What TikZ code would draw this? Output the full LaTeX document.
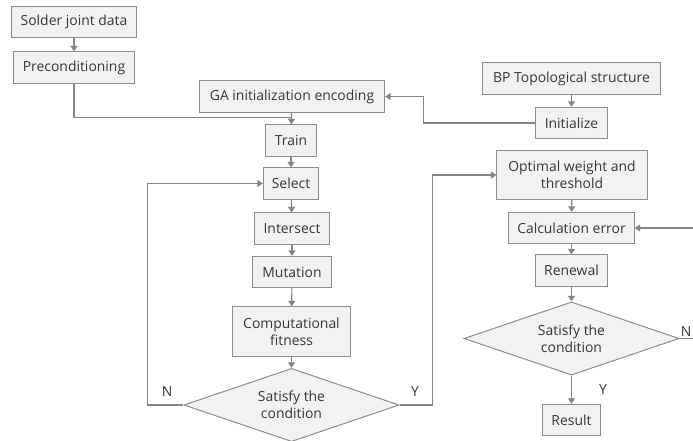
\documentclass[tikz,border=0pt]{standalone}
\usepackage{fontspec}
\setmainfont{Open Sans}
\usetikzlibrary{arrows.meta,
shapes.geometric,
positioning}
\definecolor{boxfill}{HTML}{F2F2F2}
\definecolor{boxline}{HTML}{8C8C8C}
\definecolor{flowline}{HTML}{858585}
\definecolor{labeltext}{HTML}{363636}

\begin{document}
\begin{tikzpicture} [x=0.025cm,
        y=-0.025cm,
        >={Triangle[width=5pt,length=4pt]},
        font=\fontsize{9.9}{12.2}\selectfont,
        text=labeltext,
        step box/.style={rectangle, fill = boxfill, draw = boxline,
                line width = 0.7pt, minimum height = 0.78cm,
                inner sep = 2pt, align=center},
        cond box/.style={diamond, fill = boxfill, draw = boxline,
                line width = 0.7pt, aspect = 2.95, inner sep = 0pt,
                minimum width = 5.38cm, minimum height = 1.83cm,
                align=center},
        flow/.style={draw = flowline, line width = 0.8pt},
        flow arrow/.style={flow, ->}]

    \clip (0, 0) rectangle (693, 441);

    % GA side
    \node [step box, minimum width = 3.1 cm] (solder) at (74, 22) {Solder joint data};
    \node [step box, minimum width = 3.03 cm] (precond) at (74, 67.5) {Preconditioning};
    \node [step box, minimum width = 4.63 cm] (ga) at (292, 96.5) {GA initialization encoding};
    \node [step box, minimum width = 1.28 cm] (train) at (291, 140.5) {Train};
    \node [step box, minimum width = 1.38 cm] (select) at (291, 183.5) {Select};
    \node [step box, minimum width = 1.85 cm] (intersect) at (292, 228.5) {Intersect};
    \node [step box, minimum width = 1.95 cm] (mutation) at (292, 272) {Mutation};
    \node [step box, minimum width = 2.93 cm,
        minimum height = 1.23 cm] (fitness) at (291.5, 331.5) {Computational\\fitness};
    \node [cond box] (cond_ga) at (291.5, 405) {Satisfy the\\condition};

    % BP side
    \node [step box, minimum width = 4.43 cm] (bp) at (571.5, 78.5) {BP Topological structure};
    \node [step box, minimum width = 1.78 cm] (init) at (571.5, 123) {Initialize};
    \node [step box, minimum width = 3.75 cm,
        minimum height = 1.23 cm] (optimal) at (572, 175) {Optimal weight and\\threshold};
    \node [step box, minimum width = 3.13 cm] (calc) at (571.5, 228) {Calculation error};
    \node [step box, minimum width = 1.78 cm] (renewal) at (571.5, 270.5) {Renewal};
    \node [cond box] (cond_bp) at (571.5, 338.5) {Satisfy the\\condition};
    \node [step box, minimum width = 1.43 cm] (result) at (571.5, 420) {Result};

    % branch labels
    \node (no_ga) at (167, 392) {N};
    \node (yes_ga) at (415, 392) {Y};
    \node (yes_bp) at (603, 390) {Y};
    \node [anchor = south east, inner sep = 1pt] (no_bp) at (693, 338) {N};

    \coordinate (merge) at (292, 117.5);
    \coordinate (edge) at (700, 338.5);

    % connectors
    \draw [flow arrow] (solder) -- (precond);
    \draw [flow] (precond.south) |- (merge);
    \draw [flow arrow] (ga) -- (train);
    \draw [flow arrow] (init.west) -- ++(-112, 0) |- (ga.east);
    \draw [flow arrow] (train) -- (select);
    \draw [flow arrow] (select) -- (intersect);
    \draw [flow arrow] (intersect) -- (mutation);
    \draw [flow arrow] (mutation) -- (fitness);
    \draw [flow arrow] (fitness) -- (cond_ga);
    \draw [flow arrow] (cond_ga.west) -- ++(-36, 0) |- (select.west);
    \draw [flow arrow] (cond_ga.east) -- ++(33, 0) |- (optimal.west);

    \draw [flow arrow] (bp) -- (init);
    \draw [flow arrow] (optimal) -- (calc);
    \draw [flow arrow] (calc) -- (renewal);
    \draw [flow arrow] (renewal) -- (cond_bp);
    \draw [flow arrow] (cond_bp) -- (result);
    \draw [flow] (cond_bp.east) -- (edge);
    \draw [flow arrow] (edge) |- (calc.east);

\end{tikzpicture}
\end{document}
